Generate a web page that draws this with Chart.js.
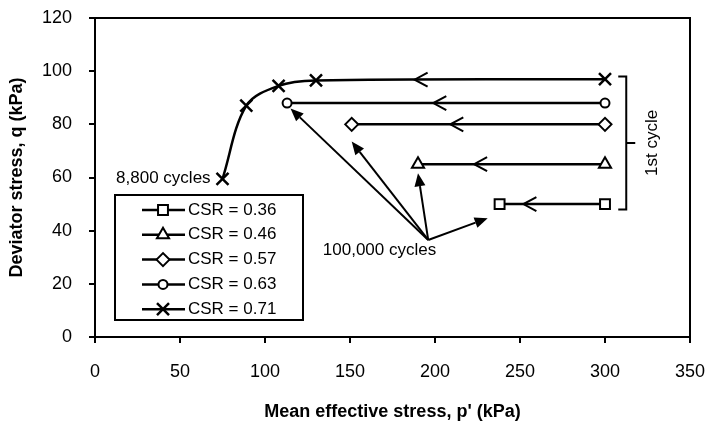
<!DOCTYPE html>
<html lang="en">
<head>
<meta charset="UTF-8">
<title>Deviator stress vs mean effective stress</title>
<script src="https://cdn.jsdelivr.net/npm/chart.js"></script>
<style>
    body { margin: 0; background: #fff; }
    .chart-container { position: relative; width: 706px; height: 423px; }
</style>
</head>
<body>
<div class="chart-container">
    <canvas id="stressChart" width="706" height="423"></canvas>
</div>
<script>
// series: mean effective stress p' (kPa) and deviator stress q (kPa)
const csrLabels = ['CSR = 0.36', 'CSR = 0.46', 'CSR = 0.57', 'CSR = 0.63', 'CSR = 0.71'];
const p036 = [300, 238];
const q036 = [50, 50];
const p046 = [300, 190];
const q046 = [65, 65];
const p057 = [300, 151];
const q057 = [80, 80];
const p063 = [300, 113];
const q063 = [88, 88];
const p071 = [300, 130, 108, 89, 75];
const q071 = [97, 96.5, 94.5, 87, 59.5];

// direction chevrons on each path (tip position)
const dirArrowP = [252, 223, 209, 199, 188];
const dirArrowQ = [50, 65, 80, 88, 96.8];

// "100,000 cycles" callout arrows
const calloutFrom = [196, 36.5];
const calloutToP = [231, 190, 151, 115];
const calloutToQ = [44.7, 61.6, 73.5, 86];

// "1st cycle" bracket
const bracketP = 312.5;
const bracketQ = [48, 98];

const textNotes = [
    { text: '8,800 cycles', p: 68, q: 59.7, align: 'right' },
    { text: '100,000 cycles', p: 134, q: 32.7, align: 'left' }
];

const FONT = "'Liberation Sans', Arial, sans-serif";
Chart.defaults.font.family = FONT;
Chart.defaults.color = '#000';

function toPoints(ps, qs) {
    return ps.map((p, i) => ({ x: p, y: qs[i] }));
}

const seriesStyle = [
    { pointStyle: 'rect', pointRadius: 7, pointBorderWidth: 2 },
    { pointStyle: 'triangle', pointRadius: 7, pointBorderWidth: 2 },
    { pointStyle: 'rectRot', pointRadius: 6.5, pointBorderWidth: 2 },
    { pointStyle: 'circle', pointRadius: 4.5, pointBorderWidth: 2 },
    { pointStyle: 'crossRot', pointRadius: 8.5, pointBorderWidth: 2.5 }
];
const seriesData = [
    toPoints(p036, q036), toPoints(p046, q046), toPoints(p057, q057),
    toPoints(p063, q063), toPoints(p071, q071)
];

const datasets = csrLabels.map((label, i) => Object.assign({
    label: label,
    data: seriesData[i],
    showLine: true,
    borderColor: '#000',
    backgroundColor: '#fff',
    pointBorderColor: '#000',
    pointBackgroundColor: '#fff',
    borderWidth: 2.5,
    tension: i === 4 ? 0.35 : 0
}, seriesStyle[i]));

// frame around plot area
const frame = {
    id: 'frame',
    beforeDatasetsDraw(chart) {
        const { ctx, chartArea: a } = chart;
        ctx.save();
        ctx.strokeStyle = '#000';
        ctx.lineWidth = 2;
        ctx.strokeRect(a.left, a.top, a.right - a.left, a.bottom - a.top);
        ctx.restore();
    }
};

const notes = {
    id: 'notes',
    afterDatasetsDraw(chart) {
        const ctx = chart.ctx;
        const xs = chart.scales.x, ys = chart.scales.y;
        const X = v => xs.getPixelForValue(v);
        const Y = v => ys.getPixelForValue(v);
        ctx.save();
        ctx.strokeStyle = '#000';
        ctx.fillStyle = '#000';
        ctx.lineWidth = 2;
        ctx.lineJoin = 'miter';

        // open chevrons showing direction of travel
        dirArrowP.forEach((p, i) => {
            const tx = X(p), ty = Y(dirArrowQ[i]);
            ctx.beginPath();
            ctx.moveTo(tx + 13, ty - 7);
            ctx.lineTo(tx, ty);
            ctx.lineTo(tx + 13, ty + 7);
            ctx.stroke();
        });

        // callout arrows
        const ox = X(calloutFrom[0]), oy = Y(calloutFrom[1]);
        calloutToP.forEach((p, i) => {
            const tx = X(p), ty = Y(calloutToQ[i]);
            const ang = Math.atan2(ty - oy, tx - ox);
            const len = 13, hw = 5.5;
            const bx = tx - len * Math.cos(ang), by = ty - len * Math.sin(ang);
            ctx.beginPath();
            ctx.moveTo(ox, oy);
            ctx.lineTo(bx, by);
            ctx.stroke();
            ctx.beginPath();
            ctx.moveTo(tx, ty);
            ctx.lineTo(bx + hw * Math.sin(ang), by - hw * Math.cos(ang));
            ctx.lineTo(bx - hw * Math.sin(ang), by + hw * Math.cos(ang));
            ctx.closePath();
            ctx.fill();
        });

        // bracket
        const bx = X(bracketP), bt = Y(bracketQ[1]), bb = Y(bracketQ[0]);
        const bm = (bt + bb) / 2;
        ctx.beginPath();
        ctx.moveTo(bx - 8, bt);
        ctx.lineTo(bx, bt);
        ctx.lineTo(bx, bb);
        ctx.lineTo(bx - 8, bb);
        ctx.moveTo(bx, bm);
        ctx.lineTo(bx + 9, bm);
        ctx.stroke();

        ctx.font = '17px ' + FONT;
        ctx.textBaseline = 'middle';
        textNotes.forEach(n => {
            ctx.textAlign = n.align;
            ctx.fillText(n.text, X(n.p), Y(n.q));
        });

        ctx.save();
        ctx.translate(bx + 26, bm);
        ctx.rotate(-Math.PI / 2);
        ctx.textAlign = 'center';
        ctx.fillText('1st cycle', 0, 0);
        ctx.restore();

        ctx.restore();
    }
};

// legend box inside the plot
const legendBox = {
    id: 'legendBox',
    afterDatasetsDraw(chart) {
        const ctx = chart.ctx;
        const x0 = chart.chartArea.left + 20, y0 = chart.chartArea.top + 177;
        const w = 188, h = 125;
        ctx.save();
        ctx.fillStyle = '#fff';
        ctx.fillRect(x0, y0, w, h);
        ctx.strokeStyle = '#000';
        ctx.lineWidth = 2;
        ctx.strokeRect(x0, y0, w, h);
        chart.data.datasets.forEach((ds, i) => {
            const y = y0 + 15 + i * 24.8;
            ctx.strokeStyle = '#000';
            ctx.lineWidth = 2.5;
            ctx.beginPath();
            ctx.moveTo(x0 + 27, y);
            ctx.lineTo(x0 + 70, y);
            ctx.stroke();
            ctx.fillStyle = '#fff';
            ctx.lineWidth = ds.pointBorderWidth;
            Chart.helpers.drawPoint(ctx, {
                pointStyle: ds.pointStyle,
                radius: ds.pointRadius,
                borderWidth: ds.pointBorderWidth,
                rotation: 0
            }, x0 + 48, y);
            ctx.fillStyle = '#000';
            ctx.font = '17px ' + FONT;
            ctx.textAlign = 'left';
            ctx.textBaseline = 'middle';
            ctx.fillText(ds.label, x0 + 73, y);
        });
        ctx.restore();
    }
};

const ctx = document.getElementById('stressChart').getContext('2d');
new Chart(ctx, {
    type: 'scatter',
    data: { datasets: datasets },
    options: {
        responsive: false,
        animation: false,
        layout: { padding: { left: 0, right: 16, top: 18, bottom: 0 } },
        scales: {
            x: {
                type: 'linear',
                min: 0,
                max: 350,
                ticks: { stepSize: 50, padding: 18, font: { size: 18 } },
                grid: { drawOnChartArea: false, tickLength: 6, color: '#000', lineWidth: 2 },
                border: { display: false },
                title: {
                    display: true,
                    text: "Mean effective stress, p' (kPa)",
                    font: { size: 18, weight: 'bold' },
                    padding: { top: 0, bottom: 0 }
                },
                afterFit(scale) {
                    scale.height = 86;
                    scale.paddingLeft = 0;
                    scale.paddingRight = 0;
                }
            },
            y: {
                type: 'linear',
                min: 0,
                max: 120,
                ticks: { stepSize: 20, padding: 17, font: { size: 18 } },
                grid: { drawOnChartArea: false, tickLength: 6, color: '#000', lineWidth: 2 },
                border: { display: false },
                title: {
                    display: true,
                    text: 'Deviator stress, q (kPa)',
                    font: { size: 18, weight: 'bold' },
                    padding: { top: 6, bottom: 0 }
                },
                afterFit(scale) {
                    scale.width = 95;
                    scale.paddingTop = 0;
                    scale.paddingBottom = 0;
                }
            }
        },
        plugins: {
            legend: { display: false },
            tooltip: { enabled: false }
        }
    },
    plugins: [frame, notes, legendBox]
});
</script>
</body>
</html>
